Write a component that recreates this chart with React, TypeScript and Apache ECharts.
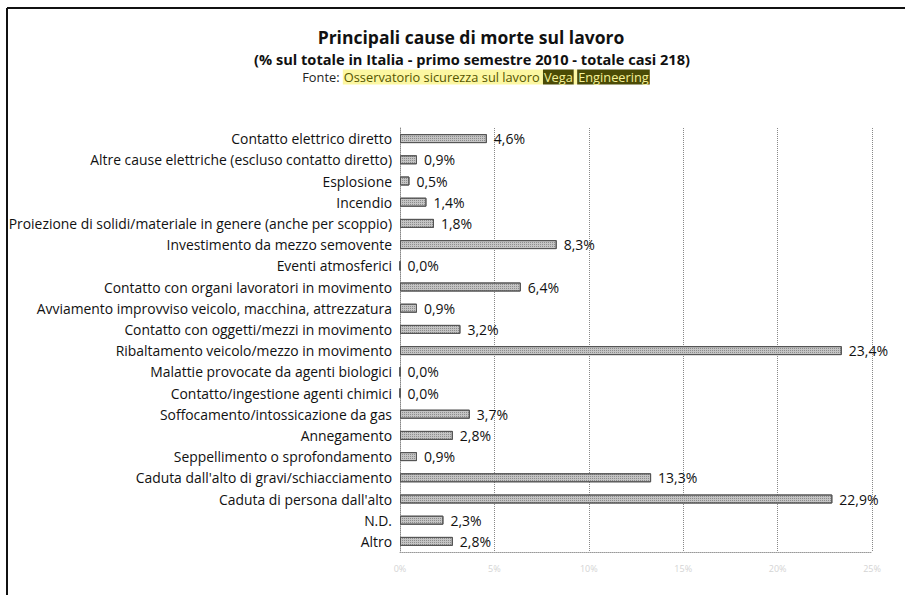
import React, { useEffect, useRef } from "react";
import * as echarts from "echarts";

const categories = [
  "Contatto elettrico diretto",
  "Altre cause elettriche (escluso contatto diretto)",
  "Esplosione",
  "Incendio",
  "Proiezione di solidi/materiale in genere (anche per scoppio)",
  "Investimento da mezzo semovente",
  "Eventi atmosferici",
  "Contatto con organi lavoratori in movimento",
  "Avviamento improvviso veicolo, macchina, attrezzatura",
  "Contatto con oggetti/mezzi in movimento",
  "Ribaltamento veicolo/mezzo in movimento",
  "Malattie provocate da agenti biologici",
  "Contatto/ingestione agenti chimici",
  "Soffocamento/intossicazione da gas",
  "Annegamento",
  "Seppellimento o sprofondamento",
  "Caduta dall'alto di gravi/schiacciamento",
  "Caduta di persona dall'alto",
  "N.D.",
  "Altro",
];

const values = [4.6, 0.9, 0.5, 1.4, 1.8, 8.3, 0.0, 6.4, 0.9, 3.2, 23.4, 0.0, 0.0, 3.7, 2.8, 0.9, 13.3, 22.9, 2.3, 2.8];

const xTicks = [0, 5, 10, 15, 20, 25];

const FONT = "'Open Sans', 'Noto Sans', sans-serif";

export default function App() {
  const ref = useRef<HTMLDivElement>(null);
  useEffect(() => {
    if (!ref.current) return;
    const chart = echarts.init(ref.current, undefined, { renderer: "svg" });
    chart.setOption({
      animation: false,
      backgroundColor: "#ffffff",
      graphic: [
        { type: "line", shape: { x1: 7, y1: 8, x2: 905, y2: 8 }, style: { stroke: "#111", lineWidth: 2 } },
        { type: "line", shape: { x1: 7, y1: 8, x2: 7, y2: 595 }, style: { stroke: "#111", lineWidth: 2 } },
        {
          type: "text",
          x: 471,
          y: 37,
          style: {
            text: "Principali cause di morte sul lavoro",
            align: "center",
            verticalAlign: "middle",
            fontFamily: FONT,
            fontSize: 17.5,
            fontWeight: "bold",
            fill: "#111",
          },
        },
        {
          type: "text",
          x: 472,
          y: 59,
          style: {
            text: "(% sul totale in Italia - primo semestre 2010 - totale casi 218)",
            align: "center",
            verticalAlign: "middle",
            fontFamily: FONT,
            fontSize: 14.6,
            fontWeight: "bold",
            fill: "#111",
          },
        },
        {
          type: "text",
          x: 476,
          y: 77,
          style: {
            text: "{f|Fonte: }{h|Osservatorio sicurezza sul lavoro }{d|Vega}{s| }{d|Engineering}",
            align: "center",
            verticalAlign: "middle",
            rich: {
              f: { fontFamily: FONT, fontSize: 12.8, fill: "#222" },
              h: { fontFamily: FONT, fontSize: 12.8, fill: "#555500", backgroundColor: "#fcf7a2", padding: [1, 0, 1, 1] },
              s: { fontFamily: FONT, fontSize: 12.8, backgroundColor: "#fcf7a2", padding: [1, 0, 1, 0] },
              d: { fontFamily: FONT, fontSize: 12.8, fill: "#f7f29a", backgroundColor: "#4b4b05", padding: [1, 1, 1, 1] },
            },
          },
        },
      ],
      grid: { left: 400, right: 33, top: 128, height: 424, containLabel: false },
      xAxis: {
        type: "value",
        min: 0,
        max: 25,
        interval: 5,
        axisLine: { show: true, lineStyle: { color: "#999", type: "dotted" } },
        axisTick: { show: false },
        axisLabel: {
          color: "#d4d4d4",
          fontFamily: FONT,
          fontSize: 9,
          margin: 12,
          formatter: (v: number) => (xTicks.includes(v) ? `${v}%` : ""),
        },
        splitLine: { show: true, lineStyle: { color: "#888", type: "dotted", width: 1 } },
      },
      yAxis: {
        type: "category",
        data: categories,
        inverse: true,
        axisLine: { show: true, lineStyle: { color: "#888", type: "dotted" } },
        axisTick: { show: false },
        axisLabel: { color: "#111", fontFamily: FONT, fontSize: 13.9, margin: 8 },
      },
      series: [
        {
          type: "bar",
          data: values,
          barWidth: 9,
          itemStyle: {
            color: "#c4c4c4",
            borderColor: "#555",
            borderWidth: 1,
            decal: {
              symbol: "rect",
              symbolSize: 1,
              dashArrayX: [1, 1],
              dashArrayY: [1, 1],
              color: "rgba(70,70,70,0.45)",
            },
          },
          label: {
            show: true,
            position: "right",
            distance: 7,
            color: "#111",
            fontFamily: FONT,
            fontSize: 14,
            formatter: (p: any) => `${p.value.toFixed(1).replace(".", ",")}%`,
          },
        },
      ],
    });
    return () => chart.dispose();
  }, []);
  return <div ref={ref} style={{ position: "absolute", left: 0, top: 0, width: 905, height: 595 }} />;
}
